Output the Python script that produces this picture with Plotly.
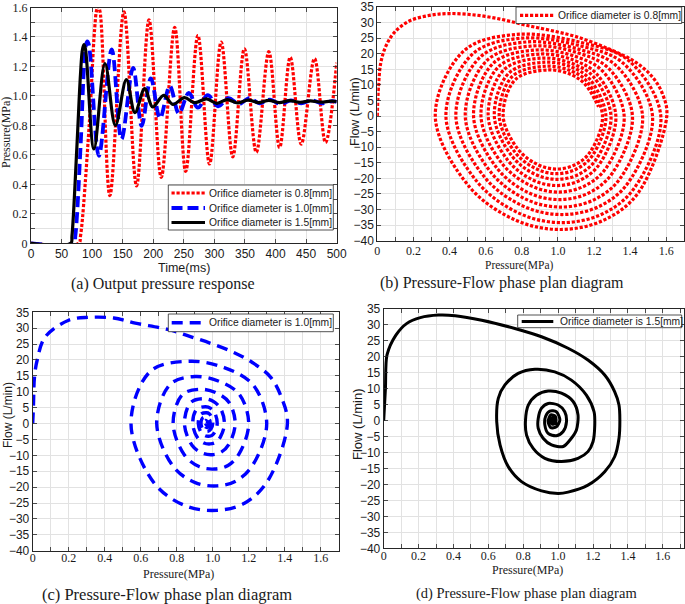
import plotly.graph_objects as go

W, H = 685, 604

# ---------------- data ----------------
# (a) Output pressure response: time (ms) / pressure (MPa)
t_08 = [0, 78, 81, 95, 104, 107.5, 110, 113, 129, 152, 172.6, 193, 213, 235, 253, 273, 292, 311, 330,
        349, 368.5, 389, 406.6, 424, 442, 463.7, 481.7, 500]
p_08 = [0, 0, 0.05, 0.79, 1.45, 1.585, 1.607, 1.57, 0.324, 1.57, 0.39, 1.517, 0.448, 1.465, 0.488, 1.41,
        0.538, 1.366, 0.587, 1.32, 0.617, 1.30, 0.65, 1.263, 0.673, 1.254, 0.684, 1.225]

t_10 = [0, 70, 72.5, 81, 87, 90, 92, 94.5, 111, 132, 148, 167, 181, 196, 211, 227, 242, 258, 273, 289,
        306, 323, 340, 357, 374, 391, 408, 425, 442, 459, 476, 493, 500]
p_10 = [0, 0, 0.05, 0.65, 1.22, 1.35, 1.37, 1.35, 0.594, 1.315, 0.707, 1.19, 0.797, 1.119, 0.849, 1.067,
        0.88, 1.02, 0.92, 1.005, 0.93, 0.985, 0.945, 0.985, 0.95, 0.975, 0.945, 0.97, 0.95, 0.97, 0.95,
        0.965, 0.96]

t_15 = [0, 65, 67, 75, 81, 84, 86.5, 89, 103, 121, 138, 156, 170, 186, 199, 217, 232, 251, 268, 287,
        304, 321, 338, 355, 372, 389, 406, 423, 440, 457, 474, 491, 500]
p_15 = [0, 0, 0.05, 0.65, 1.15, 1.31, 1.348, 1.32, 0.64, 1.22, 0.80, 1.11, 0.887, 1.05, 0.925, 1.004,
        0.943, 0.988, 0.954, 0.98, 0.95, 0.975, 0.952, 0.972, 0.955, 0.97, 0.955, 0.968, 0.957, 0.966,
        0.958, 0.965, 0.962]

# (b) Pressure-Flow phase plane, orifice 0.8 mm: pressure (MPa) / flow (L/min)
pb_08 = [0, 0.007, 0.02, 0.048, 0.094, 0.177, 0.288, 0.40, 0.546, 0.69, 0.82, 0.95, 1.10, 1.284, 1.43, 1.524, 1.58, 1.603,
         1.443, 1.250, 1.013, 0.770, 0.513, 0.321, 0.481, 0.77, 1.13, 1.392,
         1.570, 1.421, 1.243, 1.023, 0.797, 0.559, 0.380, 0.529, 0.80, 1.126, 1.361,
         1.524, 1.388, 1.225, 1.023, 0.816, 0.598, 0.435, 0.571, 0.83, 1.118, 1.322,
         1.469, 1.346, 1.199, 1.017, 0.831, 0.634, 0.487, 0.610, 0.86, 1.109, 1.281,
         1.413, 1.303, 1.171, 1.008, 0.841, 0.665, 0.533, 0.643, 0.88, 1.099, 1.248,
         1.367, 1.268, 1.149, 1.002, 0.852, 0.693, 0.574, 0.673, 0.90, 1.089, 1.215,
         1.321, 1.233, 1.127, 0.996, 0.861, 0.720, 0.614, 0.702, 0.915, 1.086, 1.197,
         1.294, 1.213, 1.116, 0.997, 0.874, 0.745, 0.648, 0.729, 0.93, 1.081, 1.177,
         1.266, 1.192, 1.103, 0.994, 0.882, 0.764, 0.675, 0.749, 0.94, 1.078, 1.164,
         1.247, 1.178, 1.096, 0.994, 0.889, 0.780, 0.697, 0.766, 0.95, 1.074, 1.152, 1.225]
fb_08 = [0, 9.8, 17.3, 22.5, 26.8, 30.5, 32.3, 32.9, 32.4, 31.0, 29.2, 27.6, 25.5, 21.5, 17.3, 12.5, 7.0, 0,
         -24.8, -33.5, -36.4, -33.5, -22.9, 0, 21.0, 26.2, 23.6, 17.8,
         0, -23.3, -31.5, -34.2, -31.5, -21.5, 0, 20.0, 25.0, 22.5, 17.0,
         0, -21.5, -29.1, -31.6, -29.1, -19.9, 0, 19.0, 23.8, 21.4, 16.2,
         0, -19.9, -26.9, -29.2, -26.9, -18.4, 0, 18.0, 22.5, 20.3, 15.3,
         0, -18.2, -24.7, -26.8, -24.7, -16.9, 0, 17.0, 21.2, 19.1, 14.4,
         0, -16.6, -22.4, -24.4, -22.4, -15.4, 0, 15.9, 19.9, 17.9, 13.5,
         0, -15.2, -20.5, -22.3, -20.5, -14.0, 0, 14.9, 18.6, 16.7, 12.6,
         0, -13.8, -18.7, -20.3, -18.7, -12.8, 0, 13.8, 17.3, 15.6, 11.8,
         0, -12.6, -17.0, -18.5, -17.0, -11.7, 0, 12.8, 16.0, 14.4, 10.9,
         0, -11.6, -15.6, -17.0, -15.6, -10.7, 0, 11.8, 14.8, 13.3, 10.1, 3.0]

# (c) Pressure-Flow phase plane, orifice 1.0 mm
pc_10 = [0, 0.004, 0.01, 0.025, 0.07, 0.2, 0.31, 0.45, 0.57, 0.75, 0.88, 1.0, 1.12, 1.22, 1.32, 1.38, 1.415,
         1.306, 1.176, 1.024, 0.850, 0.676, 0.546, 0.655, 0.87, 1.064, 1.224,
         1.30, 1.224, 1.132, 1.025, 0.903, 0.781, 0.689, 0.765, 0.90, 1.035, 1.148,
         1.20, 1.148, 1.085, 1.011, 0.927, 0.843, 0.78, 0.832, 0.93, 1.018, 1.090,
         1.125, 1.090, 1.047, 0.998, 0.942, 0.885, 0.843, 0.878, 0.95, 1.002, 1.043,
         1.065, 1.043, 1.017, 0.986, 0.951, 0.915, 0.889, 0.911, 0.96, 0.989, 1.012,
         1.025, 1.012, 0.996, 0.978, 0.957, 0.936, 0.92, 0.933, 0.965, 0.981, 0.992,
         1.0, 0.99, 0.97, 0.945, 0.935, 0.943, 0.963, 0.982,
         0.985, 0.975, 0.958, 0.95, 0.96, 0.972, 0.965, 0.96]
fc_10 = [0, 5.3, 14.7, 20, 27.3, 32.5, 33.4, 33.2, 31.6, 29.6, 27.3, 25, 22.3, 19.2, 14.7, 8.5, 0,
         -18.0, -25.1, -27.3, -25.9, -18.8, 0, 16.5, 19.6, 17.6, 12.2,
         0, -12.9, -18.0, -19.6, -18.6, -13.5, 0, 12.4, 14.8, 13.3, 9.2,
         0, -9.4, -13.2, -14.3, -13.6, -9.9, 0, 9.1, 10.8, 9.7, 6.7,
         0, -6.5, -9.0, -9.8, -9.3, -6.8, 0, 6.6, 7.8, 7.0, 4.8,
         0, -4.2, -5.9, -6.4, -6.1, -4.4, 0, 4.5, 5.3, 4.8, 3.3,
         0, -2.6, -3.7, -4.0, -3.8, -2.8, 0, 2.9, 3.4, 3.1, 2.0,
         0, -1.7, -2.5, -1.7, 0, 1.7, 2.0, 1.2,
         0, -1.1, -1.0, 0.2, 1.0, 0.3, -0.4, 0]

# (d) Pressure-Flow phase plane, orifice 1.5 mm
pd_15 = [0, 0.01, 0.019, 0.07, 0.133, 0.21, 0.314, 0.41, 0.562, 0.752,
         0.905, 1.057, 1.171, 1.267, 1.324, 1.349, 1.354, 1.349, 1.324, 1.267,
         1.171, 1.057, 1.0, 0.905, 0.79, 0.714, 0.667, 0.648, 0.657, 0.695,
         0.771, 0.867, 0.981, 1.076, 1.162, 1.206, 1.21, 1.2, 1.171, 1.114,
         1.019, 0.924, 0.857, 0.819, 0.813, 0.829, 0.876, 0.943, 1.019, 1.086,
         1.114, 1.105, 1.076, 1.029, 0.962, 0.914, 0.886, 0.886, 0.905, 0.943,
         1.0, 1.038, 1.048, 1.029, 0.99, 0.943, 0.924, 0.928, 0.952, 0.99,
         1.01, 0.99, 0.958, 0.943, 0.958, 0.985, 0.985, 0.966, 0.958, 0.967,
         0.975, 0.968, 0.958, 0.962, 0.97, 0.966]
fd_15 = [0, 10.1, 20.6, 26.8, 30.5, 32.3, 33.1, 32.9, 31.5, 28.9,
         26.3, 22.7, 19.0, 14.3, 9.1, 4.9, 0.2, -5.5, -11.3, -16.0,
         -20.2, -22.4, -22.8, -22.0, -19.1, -14.4, -7.6, -0.3, 7.0, 11.2,
         14.8, 16.1, 15.3, 12.7, 8.0, 2.8, -1.5, -6.6, -9.7, -11.8,
         -12.8, -11.8, -8.7, -4.5, 0.2, 4.9, 8.0, 9.3, 8.6, 6.0,
         1.8, -2.9, -5.5, -8.1, -7.6, -5.5, -2.4, 0.7, 3.9, 5.4,
         4.9, 2.8, -0.3, -3.4, -4.7, -4.0, -1.4, 1.3, 3.0, 2.8,
         0.2, -1.9, -2.2, -0.3, 1.8, 1.3, -0.8, -1.1, 0.2, 0.9,
         0.1, -0.7, -0.3, 0.6, 0.4, -0.2]

# ticks / labels
time_ticks = [0, 50, 100, 150, 200, 250, 300, 350, 400, 450, 500]
pres_ticks_a = [0, 0.1, 0.2, 0.3, 0.4, 0.5, 0.6, 0.7, 0.8, 0.9, 1.0, 1.1, 1.2, 1.3, 1.4, 1.5, 1.6]
pres_text_a = ["0", "", "0.2", "", "0.4", "", "0.6", "", "0.8", "", "1.0", "", "1.2", "", "1.4", "", "1.6"]
pres_ticks_ph = [0, 0.1, 0.2, 0.3, 0.4, 0.5, 0.6, 0.7, 0.8, 0.9, 1.0, 1.1, 1.2, 1.3, 1.4, 1.5, 1.6, 1.7]
pres_text_ph = ["0", "", "0.2", "", "0.4", "", "0.6", "", "0.8", "", "1.0", "", "1.2", "", "1.4", "", "1.6", ""]
flow_ticks = [-40, -35, -30, -25, -20, -15, -10, -5, 0, 5, 10, 15, 20, 25, 30, 35]

labels = ["Orifice diameter is 0.8[mm]", "Orifice diameter is 1.0[mm]", "Orifice diameter is 1.5[mm]"]
captions = ["(a) Output pressure response", "(b) Pressure-Flow phase plan diagram",
            "(c) Pressure-Flow phase plan diagram", "(d) Pressure-Flow phase plan diagram"]

# ---------------- styles ----------------
SANS = "Liberation Sans, Arial, sans-serif"
SERIF = "Liberation Serif, Times New Roman, serif"
TXT = "#1a1a1a"
RED = dict(color="#ff0000", width=3.2, dash="3.2px,1.8px")
BLUE_A = dict(color="#0000ff", width=3.8, dash="11px,5px")
BLUE_C = dict(color="#0000ff", width=3.4, dash="11px,7px")
BLACK_A = dict(color="#000000", width=3.2)
BLACK_D = dict(color="#000000", width=3.0)


def px(x):
    return x / W


def py(y):
    return 1 - y / H


def ax(domain, rng, font_family, tickvals, ticktext=None, standoff=0):
    d = dict(domain=domain, range=rng, showline=True, linecolor="#262626", linewidth=1,
             mirror="ticks", ticks="inside", ticklen=4, tickcolor="#262626", tickwidth=0.8,
             showgrid=True, gridcolor="#e2e2e2", gridwidth=1, zeroline=False,
             tickmode="array", tickvals=tickvals, automargin=False, ticklabelstandoff=standoff,
             ticklabeloverflow="allow",
             tickfont=dict(family=font_family, size=12, color=TXT), fixedrange=True)
    if ticktext is not None:
        d["ticktext"] = ticktext
    return d


fig = go.Figure()

fig.add_trace(go.Scatter(x=t_08, y=p_08, mode="lines", name=labels[0],
                         line=dict(shape="spline", **RED), xaxis="x", yaxis="y", hoverinfo="skip"))
fig.add_trace(go.Scatter(x=t_10, y=p_10, mode="lines", name=labels[1],
                         line=dict(shape="spline", **BLUE_A), xaxis="x", yaxis="y", hoverinfo="skip"))
fig.add_trace(go.Scatter(x=t_15, y=p_15, mode="lines", name=labels[2],
                         line=dict(shape="spline", **BLACK_A), xaxis="x", yaxis="y", hoverinfo="skip"))
fig.add_trace(go.Scatter(x=pb_08, y=fb_08, mode="lines", name=labels[0],
                         line=dict(shape="spline", **RED), xaxis="x2", yaxis="y2", hoverinfo="skip"))
fig.add_trace(go.Scatter(x=pc_10, y=fc_10, mode="lines", name=labels[1],
                         line=dict(shape="spline", **BLUE_C), xaxis="x3", yaxis="y3", hoverinfo="skip"))
fig.add_trace(go.Scatter(x=pd_15, y=fd_15, mode="lines", name=labels[2],
                         line=dict(shape="spline", smoothing=0.8, **BLACK_D), xaxis="x4", yaxis="y4",
                         hoverinfo="skip"))

layout = dict(
    width=W, height=H, margin=dict(l=0, r=0, t=0, b=0, pad=0, autoexpand=False),
    paper_bgcolor="white", plot_bgcolor="white", showlegend=False,
    xaxis=ax([px(31), px(336.7)], [0, 500], SANS, time_ticks, standoff=-1),
    yaxis=ax([py(243.3), py(7.5)], [0, 1.6], SERIF, pres_ticks_a, pres_text_a),
    xaxis2=ax([px(377.3), px(684.3)], [0, 1.7], SERIF, pres_ticks_ph, pres_text_ph, standoff=-1),
    yaxis2=ax([py(240.7), py(7)], [-40, 35], SANS, flow_ticks),
    xaxis3=ax([px(32.7), px(338.7)], [0, 1.7], SERIF, pres_ticks_ph, pres_text_ph, standoff=-4),
    yaxis3=ax([py(550.7), py(312.3)], [-40, 35], SANS, flow_ticks),
    xaxis4=ax([px(383.7), px(683.7)], [0, 1.72], SERIF, pres_ticks_ph, pres_text_ph, standoff=-4),
    yaxis4=ax([py(548.3), py(309)], [-40, 35], SANS, flow_ticks),
)
layout["xaxis"]["anchor"] = "y"
layout["yaxis"]["anchor"] = "x"
for i in (2, 3, 4):
    layout["xaxis%d" % i]["anchor"] = "y%d" % i
    layout["yaxis%d" % i]["anchor"] = "x%d" % i
fig.update_layout(**layout)

annotations = []
shapes = []


def text(x, y, s, family, size, angle=0, xanchor="center"):
    annotations.append(dict(x=px(x), y=py(y), xref="paper", yref="paper", text=s, showarrow=False,
                            xanchor=xanchor, yanchor="middle", textangle=angle,
                            font=dict(family=family, size=size, color=TXT)))


# axis titles
text(184, 267.5, "Time(ms)", SANS, 12.5)
text(6, 133, "Pressure(MPa)", SERIF, 12, angle=-90)
text(519, 266, "Pressure(MPa)", SERIF, 11.5)
text(355, 112, "Flow (L/min)", SANS, 12.5, angle=-90)
text(178, 573.5, "Pressure(MPa)", SERIF, 12)
text(8, 415, "Flow (L/min)", SANS, 12, angle=-90)
text(527, 569.5, "Pressure(MPa)", SERIF, 12)
text(357, 424, "Flow (L/min)", SANS, 13, angle=-90)

# captions
text(163, 284, captions[0], SERIF, 16)
text(502, 283, captions[1], SERIF, 16)
text(167, 594.5, captions[2], SERIF, 16.5)
text(526, 593.5, captions[3], SERIF, 14.5)


# legends (drawn as boxes with line samples and text)
def legend_box(x0, y0, x1, y1):
    shapes.append(dict(type="rect", xref="paper", yref="paper", x0=px(x0), x1=px(x1), y0=py(y1), y1=py(y0),
                       line=dict(color="#262626", width=0.8), fillcolor="white", layer="above"))


def legend_item(xs0, xs1, xt, y, style, label):
    shapes.append(dict(type="line", xref="paper", yref="paper", x0=px(xs0), x1=px(xs1), y0=py(y), y1=py(y),
                       line=style, layer="above"))
    text(xt, y, label, SANS, 10.3, xanchor="left")


legend_box(168.3, 185, 333.3, 230)
legend_item(171.5, 205, 207, 193, RED, labels[0])
legend_item(171.5, 205, 207, 208, BLUE_A, labels[1])
legend_item(171.5, 205, 207, 222.5, BLACK_A, labels[2])

legend_box(516, 7, 681.7, 23.5)
legend_item(520, 553.3, 555.5, 15.3, RED, labels[0])

legend_box(168.3, 314, 333.3, 331.7)
legend_item(171.7, 205, 207, 322.8, BLUE_C, labels[1])

legend_box(517.7, 315, 681.7, 327.7)
legend_item(521.7, 553.3, 557.5, 321.4, BLACK_D, labels[2])

fig.update_layout(annotations=annotations, shapes=shapes)
fig.write_html("out.html", config={"displayModeBar": False, "staticPlot": True},
               post_script="document.body.style.margin='0px';document.body.style.padding='0px';"
                           "document.documentElement.style.overflow='hidden';")
